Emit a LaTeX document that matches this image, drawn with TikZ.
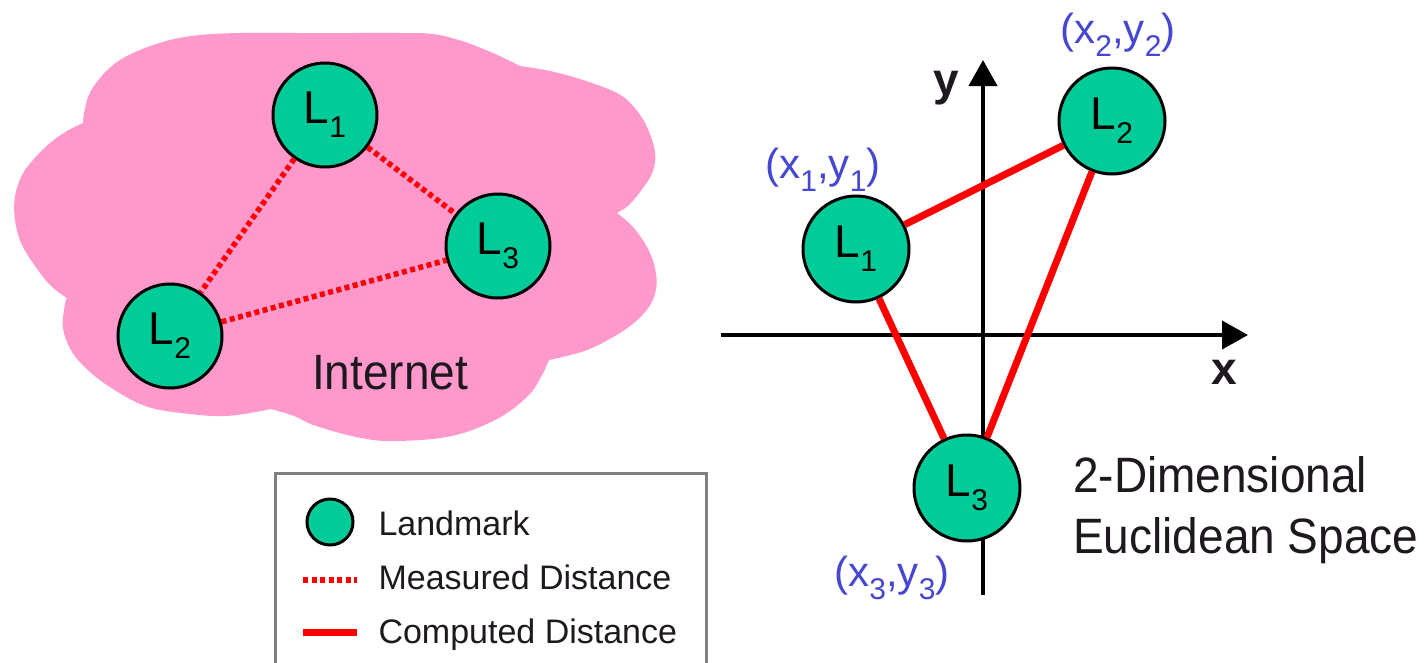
\documentclass[tikz,border=0pt]{standalone}
\usepackage{fontspec}
\setmainfont{Liberation Sans}
\usetikzlibrary{arrows.meta}
\definecolor{cloudpink}{RGB}{255,153,204}
\definecolor{lmgreen}{RGB}{0,204,153}
\definecolor{lblue}{RGB}{70,70,210}
\definecolor{txtdark}{RGB}{30,25,30}
\newcommand\lsub[1]{\raisebox{-0.3em}{\fontsize{30}{30}\selectfont #1}}
\newcommand\tall[1]{\scalebox{1}[1.08]{#1}}
\begin{document}
\begin{tikzpicture}[x=1pt,y=-1pt,
  lm/.style={circle,draw=black,line width=3pt,fill=lmgreen,minimum size=104pt,inner sep=0pt,font=\fontsize{46}{46}\selectfont},
  meas/.style={red,line width=5.5pt,dash pattern=on 5pt off 3.5pt},
  comp/.style={red,line width=7pt},
  axis/.style={line width=4pt,-{Triangle[length=26pt,width=28pt]}},
  coordlbl/.style={text=lblue,font=\fontsize{42}{42}\selectfont},
  bigtxt/.style={font=\fontsize{46}{56}\selectfont,text=txtdark,inner sep=0pt},
  legtxt/.style={font=\fontsize{34}{34}\selectfont,text=txtdark,anchor=base west},
]
\useasboundingbox (0,0) rectangle (1428,662);
% cloud
\fill[cloudpink]
  plot[smooth,tension=0.6] coordinates {(67,298) (50,285) (33,263) (21,243) (15,220) (15,196) (22,175) (33,160) (50,143) (67,131) (83,123)}
  -- plot[smooth,tension=0.6] coordinates {(83,120) (88,97) (100,78) (117,62) (140,50) (170,40) (200,35) (240,33) (300,33) (350,33) (400,33) (433,34) (462,41) (493,53) (520,66)}
  -- plot[smooth,tension=0.6] coordinates {(520,66) (550,71) (583,80) (617,93) (634,107) (647,127) (655,152) (653,171) (643,188) (629,205) (617,213)}
  -- plot[smooth,tension=0.6] coordinates {(617,213) (633,227) (647,247) (655,268) (656,290) (646,311) (623,331) (587,350) (549,360)}
  -- plot[smooth,tension=0.6] coordinates {(549,360) (542,375) (528,396) (497,419) (452,436) (397,441) (361,438) (316,426) (294,416) (271,409)}
  -- plot[smooth,tension=0.6] coordinates {(271,409) (226,416) (181,413) (145,406) (113,389) (90,372) (72,352) (63,328) (65,304) (67,298)}
  -- cycle;
% left landmarks
\node[lm] (a1) at (325,115) {L\lsub{1}};
\node[lm] (a2) at (170,336) {L\lsub{2}};
\node[lm] (a3) at (498,246) {L\lsub{3}};
\draw[meas] (a1) -- (a2);
\draw[meas] (a1) -- (a3);
\draw[meas] (a2) -- (a3);
\node[bigtxt,anchor=base west] (inet) at (312,389) {\tall{Internet}};
% legend
\coordinate (bl) at (275,690);
\coordinate (tl) at (275,473);
\coordinate (tr) at (706,473);
\coordinate (br) at (706,690);
\draw[gray,line width=3pt] (bl) -- (tl) -- (tr) -- (br);
\node[lm,minimum size=46pt] (k1) at (330,522) {};
\node[legtxt] (t1) at (375,535) {Landmark};
\coordinate (m1) at (303,580);
\coordinate (m2) at (357,580);
\draw[meas] (m1) -- (m2);
\node[legtxt] (t2) at (375,589) {Measured Distance};
\coordinate (c1) at (303,632);
\coordinate (c2) at (357,632);
\draw[comp] (c1) -- (c2);
\node[legtxt] (t3) at (375,643) {Computed Distance};
% axes
\coordinate (xo) at (721,335);
\coordinate (xe) at (1248,335);
\coordinate (yo) at (983,595);
\coordinate (ye) at (983,60);
\draw[axis] (xo) -- (xe);
\draw[axis] (yo) -- (ye);
\node[font=\fontsize{46}{46}\selectfont\bfseries,text=txtdark] (ylbl) at (946,88) {y};
\node[font=\fontsize{46}{46}\selectfont\bfseries,text=txtdark] (xlbl) at (1224,372) {x};
% right landmarks
\node[lm,minimum size=106pt] (b1) at (856,249) {L\lsub{1}};
\node[lm,minimum size=106pt] (b2) at (1112,121) {L\lsub{2}};
\node[lm,minimum size=106pt] (b3) at (967,488) {L\lsub{3}};
\draw[comp] (b1) -- (b2);
\draw[comp] (b2) -- (b3);
\draw[comp] (b1) -- (b3);
\node[coordlbl] (p1) at (823,170) {(x\lsub{1},y\lsub{1})};
\node[coordlbl] (p2) at (1118,35) {(x\lsub{2},y\lsub{2})};
\node[coordlbl] (p3) at (892,578) {(x\lsub{3},y\lsub{3})};
\node[bigtxt,anchor=base west] (sp) at (1073,553) {\tall{\begin{tabular}[b]{@{}l@{}}2-Dimensional\\Euclidean Space\end{tabular}}};
\end{tikzpicture}
\end{document}
